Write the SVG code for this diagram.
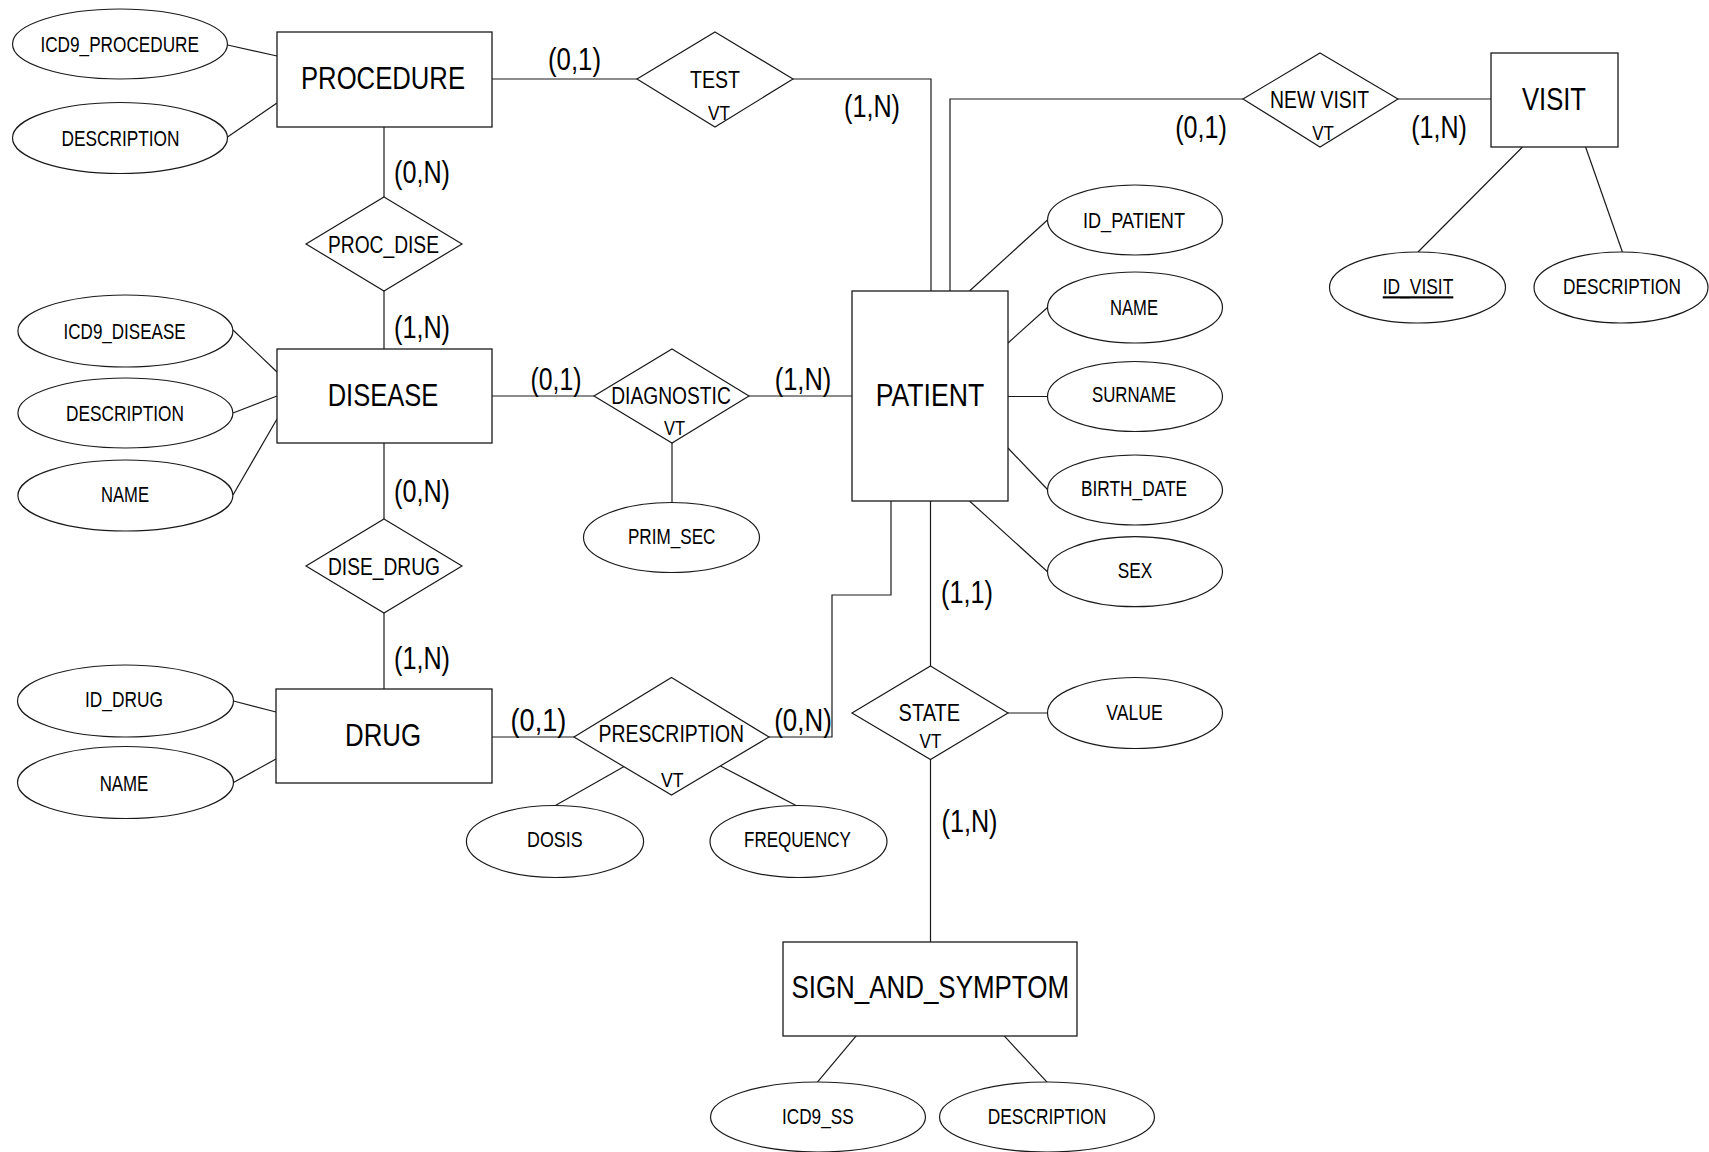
<svg xmlns="http://www.w3.org/2000/svg" width="1709" height="1152" viewBox="0 0 1709 1152">
  <style>
    .ent { fill: #fff; stroke: #1a1a1a; stroke-width: 1.3; }
    .rel { fill: #fff; stroke: #1a1a1a; stroke-width: 1.2; }
    .att { fill: #fff; stroke: #1a1a1a; stroke-width: 1.2; }
    .ln  { fill: none; stroke: #1a1a1a; stroke-width: 1.2; }
    text { font-family: "Liberation Sans Narrow", "Liberation Sans", Arial, sans-serif; fill: #000; text-anchor: middle; }
    .te { font-size: 31.5px; }
    .tr { font-size: 23.5px; }
    .tv { font-size: 21px; }
    .ta { font-size: 21.5px; }
    .tc { font-size: 31px; }
  </style>
  <rect width="1709" height="1152" fill="#fff"/>

  <!-- connectors -->
  <g id="connectors">
    <polyline class="ln" points="492,79 637,79"/>
    <polyline class="ln" points="793,79 931,79 931,291"/>
    <polyline class="ln" points="950,295 950,99 1243,99"/>
    <polyline class="ln" points="1398,99 1491,99"/>
    <polyline class="ln" points="384,127 384,197"/>
    <polyline class="ln" points="384,291 384,349"/>
    <polyline class="ln" points="492,396 594,396"/>
    <polyline class="ln" points="749,396 852,396"/>
    <polyline class="ln" points="672,443 672,503"/>
    <polyline class="ln" points="384,443 384,519"/>
    <polyline class="ln" points="384,613 384,689"/>
    <polyline class="ln" points="492,737 574,737"/>
    <polyline class="ln" points="769,737 832,737 832,595 891,595 891,501"/>
    <polyline class="ln" points="625,766 554.5,806"/>
    <polyline class="ln" points="720.5,766 797,806"/>
    <polyline class="ln" points="930.5,501 930.5,666"/>
    <polyline class="ln" points="1008,713 1047.5,713"/>
    <polyline class="ln" points="930.5,759 930.5,942"/>
    <!-- attribute links -->
    <line class="ln" x1="227.5" y1="45" x2="277" y2="56"/>
    <line class="ln" x1="227.5" y1="137" x2="277" y2="103"/>
    <line class="ln" x1="233" y1="330" x2="277" y2="372"/>
    <line class="ln" x1="233" y1="413" x2="277" y2="396"/>
    <line class="ln" x1="233" y1="495" x2="277" y2="419"/>
    <line class="ln" x1="233.5" y1="701" x2="276" y2="712"/>
    <line class="ln" x1="233.5" y1="782.5" x2="276" y2="759"/>
    <line class="ln" x1="969.5" y1="291" x2="1047.5" y2="220"/>
    <line class="ln" x1="1008" y1="343" x2="1047.5" y2="307.5"/>
    <line class="ln" x1="1008" y1="396.5" x2="1047.5" y2="396.5"/>
    <line class="ln" x1="1008" y1="448" x2="1047.5" y2="489.5"/>
    <line class="ln" x1="969.5" y1="501" x2="1047.5" y2="571.7"/>
    <line class="ln" x1="1522.5" y1="147" x2="1418" y2="252"/>
    <line class="ln" x1="1585.6" y1="147" x2="1622.4" y2="252"/>
    <line class="ln" x1="856.4" y1="1035.7" x2="817" y2="1082.7"/>
    <line class="ln" x1="1004" y1="1035.7" x2="1047.5" y2="1082.7"/>
  </g>

  <!-- entities -->
  <g id="procedure">
    <rect class="ent" x="277" y="32" width="215" height="95"/>
    <text class="te" x="383" y="89.3" textLength="164" lengthAdjust="spacingAndGlyphs">PROCEDURE</text>
  </g>
  <g id="disease">
    <rect class="ent" x="277" y="349" width="215" height="94"/>
    <text class="te" x="383" y="406.3" textLength="110.7" lengthAdjust="spacingAndGlyphs">DISEASE</text>
  </g>
  <g id="drug">
    <rect class="ent" x="276" y="689" width="216" height="94"/>
    <text class="te" x="383" y="746.3" textLength="76" lengthAdjust="spacingAndGlyphs">DRUG</text>
  </g>
  <g id="patient">
    <rect class="ent" x="852" y="291" width="156" height="210"/>
    <text class="te" x="930" y="406.3" textLength="108.5" lengthAdjust="spacingAndGlyphs">PATIENT</text>
  </g>
  <g id="visit">
    <rect class="ent" x="1491" y="53" width="127" height="94"/>
    <text class="te" x="1554" y="110.3" textLength="64" lengthAdjust="spacingAndGlyphs">VISIT</text>
  </g>
  <g id="sign_and_symptom">
    <rect class="ent" x="783" y="942" width="294" height="94"/>
    <text class="te" x="930.2" y="998" textLength="277.6" lengthAdjust="spacingAndGlyphs">SIGN_AND_SYMPTOM</text>
  </g>

  <!-- relationships -->
  <g id="test">
    <polygon class="rel" points="715,32 793,79 715,127 637,79"/>
    <text class="tr" x="715" y="87.5" textLength="50" lengthAdjust="spacingAndGlyphs">TEST</text>
    <text class="tv" x="719" y="119.5" textLength="22" lengthAdjust="spacingAndGlyphs">VT</text>
  </g>
  <g id="new_visit">
    <polygon class="rel" points="1320,53 1398,99 1320,147 1243,99"/>
    <text class="tr" x="1319.5" y="107.5" textLength="99" lengthAdjust="spacingAndGlyphs">NEW VISIT</text>
    <text class="tv" x="1323" y="139.5" textLength="21.6" lengthAdjust="spacingAndGlyphs">VT</text>
  </g>
  <g id="proc_dise">
    <polygon class="rel" points="384,197 462,244 384,291 306,244"/>
    <text class="tr" x="383.5" y="252.5" textLength="111" lengthAdjust="spacingAndGlyphs">PROC_DISE</text>
  </g>
  <g id="diagnostic">
    <polygon class="rel" points="672,349 749,396 672,443 594,396"/>
    <text class="tr" x="671" y="404" textLength="119.6" lengthAdjust="spacingAndGlyphs">DIAGNOSTIC</text>
    <text class="tv" x="674.5" y="435" textLength="21" lengthAdjust="spacingAndGlyphs">VT</text>
  </g>
  <g id="dise_drug">
    <polygon class="rel" points="384,519 462,566 384,613 306,566"/>
    <text class="tr" x="384" y="574.5" textLength="112" lengthAdjust="spacingAndGlyphs">DISE_DRUG</text>
  </g>
  <g id="prescription">
    <polygon class="rel" points="671.5,677.5 769,737 671.5,795 574,737"/>
    <text class="tr" x="671.3" y="742.2" textLength="145.5" lengthAdjust="spacingAndGlyphs">PRESCRIPTION</text>
    <text class="tv" x="672.3" y="786.5" textLength="22.6" lengthAdjust="spacingAndGlyphs">VT</text>
  </g>
  <g id="state">
    <polygon class="rel" points="930.5,666 1008,713 930.5,759.5 852,713"/>
    <text class="tr" x="929.3" y="720.5" textLength="61.4" lengthAdjust="spacingAndGlyphs">STATE</text>
    <text class="tv" x="930.5" y="747.5" textLength="21.8" lengthAdjust="spacingAndGlyphs">VT</text>
  </g>

  <!-- attributes -->
  <g id="attr_icd9_procedure">
    <ellipse class="att" cx="120" cy="44" rx="107.5" ry="35"/>
    <text class="ta" x="119.7" y="52.3" textLength="158.6" lengthAdjust="spacingAndGlyphs">ICD9_PROCEDURE</text>
  </g>
  <g id="attr_procedure_description">
    <ellipse class="att" cx="120" cy="138" rx="107.5" ry="35.5"/>
    <text class="ta" x="120.5" y="145.5" textLength="118" lengthAdjust="spacingAndGlyphs">DESCRIPTION</text>
  </g>
  <g id="attr_icd9_disease">
    <ellipse class="att" cx="125.4" cy="331" rx="107.5" ry="36"/>
    <text class="ta" x="124.6" y="338.5" textLength="122" lengthAdjust="spacingAndGlyphs">ICD9_DISEASE</text>
  </g>
  <g id="attr_disease_description">
    <ellipse class="att" cx="125.4" cy="413" rx="107.5" ry="35"/>
    <text class="ta" x="125" y="420.5" textLength="118" lengthAdjust="spacingAndGlyphs">DESCRIPTION</text>
  </g>
  <g id="attr_disease_name">
    <ellipse class="att" cx="125.4" cy="495.5" rx="107.5" ry="35.5"/>
    <text class="ta" x="125" y="502.2" textLength="48" lengthAdjust="spacingAndGlyphs">NAME</text>
  </g>
  <g id="attr_id_drug">
    <ellipse class="att" cx="125.5" cy="701" rx="108" ry="36"/>
    <text class="ta" x="124" y="707.2" textLength="78" lengthAdjust="spacingAndGlyphs">ID_DRUG</text>
  </g>
  <g id="attr_drug_name">
    <ellipse class="att" cx="125.5" cy="782.5" rx="108" ry="36"/>
    <text class="ta" x="124" y="790.5" textLength="48.7" lengthAdjust="spacingAndGlyphs">NAME</text>
  </g>
  <g id="attr_prim_sec">
    <ellipse class="att" cx="671.5" cy="537.5" rx="88" ry="35"/>
    <text class="ta" x="671.7" y="543.5" textLength="87.5" lengthAdjust="spacingAndGlyphs">PRIM_SEC</text>
  </g>
  <g id="attr_dosis">
    <ellipse class="att" cx="555" cy="841.5" rx="88.6" ry="36"/>
    <text class="ta" x="554.8" y="847.2" textLength="55.6" lengthAdjust="spacingAndGlyphs">DOSIS</text>
  </g>
  <g id="attr_frequency">
    <ellipse class="att" cx="798.5" cy="841.5" rx="88.5" ry="36"/>
    <text class="ta" x="797.4" y="847.2" textLength="106.8" lengthAdjust="spacingAndGlyphs">FREQUENCY</text>
  </g>
  <g id="attr_id_patient">
    <ellipse class="att" cx="1135" cy="220" rx="87.5" ry="35"/>
    <text class="ta" x="1134" y="228.3" textLength="102" lengthAdjust="spacingAndGlyphs">ID_PATIENT</text>
  </g>
  <g id="attr_patient_name">
    <ellipse class="att" cx="1135" cy="307.5" rx="87.5" ry="35.5"/>
    <text class="ta" x="1134" y="315" textLength="48" lengthAdjust="spacingAndGlyphs">NAME</text>
  </g>
  <g id="attr_surname">
    <ellipse class="att" cx="1135" cy="396.5" rx="87.5" ry="35"/>
    <text class="ta" x="1134" y="402.2" textLength="84" lengthAdjust="spacingAndGlyphs">SURNAME</text>
  </g>
  <g id="attr_birth_date">
    <ellipse class="att" cx="1135" cy="490" rx="87.5" ry="35"/>
    <text class="ta" x="1134" y="496.2" textLength="106" lengthAdjust="spacingAndGlyphs">BIRTH_DATE</text>
  </g>
  <g id="attr_sex">
    <ellipse class="att" cx="1135" cy="571.7" rx="87.5" ry="35"/>
    <text class="ta" x="1135" y="578.2" textLength="34.5" lengthAdjust="spacingAndGlyphs">SEX</text>
  </g>
  <g id="attr_value">
    <ellipse class="att" cx="1135" cy="713" rx="87.5" ry="35.5"/>
    <text class="ta" x="1134.6" y="719.5" textLength="56.5" lengthAdjust="spacingAndGlyphs">VALUE</text>
  </g>
  <g id="attr_id_visit">
    <ellipse class="att" cx="1417.5" cy="287.5" rx="88" ry="35.5"/>
    <text class="ta" x="1418" y="294.3" textLength="70.6" lengthAdjust="spacingAndGlyphs" text-decoration="underline">ID_VISIT</text>
  </g>
  <g id="attr_visit_description">
    <ellipse class="att" cx="1621" cy="287.5" rx="87" ry="35.5"/>
    <text class="ta" x="1622" y="294.3" textLength="118" lengthAdjust="spacingAndGlyphs">DESCRIPTION</text>
  </g>
  <g id="attr_icd9_ss">
    <ellipse class="att" cx="818" cy="1117" rx="107.5" ry="35"/>
    <text class="ta" x="817.8" y="1123.8" textLength="71.6" lengthAdjust="spacingAndGlyphs">ICD9_SS</text>
  </g>
  <g id="attr_ss_description">
    <ellipse class="att" cx="1047" cy="1117" rx="107.5" ry="35"/>
    <text class="ta" x="1047" y="1123.8" textLength="118.5" lengthAdjust="spacingAndGlyphs">DESCRIPTION</text>
  </g>

  <!-- cardinalities -->
  <g id="cardinalities" class="tc">
    <text class="tc" x="574.5" y="69.5" textLength="53" lengthAdjust="spacingAndGlyphs">(0,1)</text>
    <text class="tc" x="872" y="116.5" textLength="56" lengthAdjust="spacingAndGlyphs">(1,N)</text>
    <text class="tc" x="1201" y="137.5" textLength="51.6" lengthAdjust="spacingAndGlyphs">(0,1)</text>
    <text class="tc" x="1439" y="137.5" textLength="55.6" lengthAdjust="spacingAndGlyphs">(1,N)</text>
    <text class="tc" x="422" y="183" textLength="56" lengthAdjust="spacingAndGlyphs">(0,N)</text>
    <text class="tc" x="422" y="337.5" textLength="56" lengthAdjust="spacingAndGlyphs">(1,N)</text>
    <text class="tc" x="556" y="389.5" textLength="51" lengthAdjust="spacingAndGlyphs">(0,1)</text>
    <text class="tc" x="803" y="389.5" textLength="56.5" lengthAdjust="spacingAndGlyphs">(1,N)</text>
    <text class="tc" x="422" y="501.5" textLength="56" lengthAdjust="spacingAndGlyphs">(0,N)</text>
    <text class="tc" x="422" y="668.5" textLength="56" lengthAdjust="spacingAndGlyphs">(1,N)</text>
    <text class="tc" x="538.4" y="730.8" textLength="55.7" lengthAdjust="spacingAndGlyphs">(0,1)</text>
    <text class="tc" x="803" y="730.8" textLength="57.5" lengthAdjust="spacingAndGlyphs">(0,N)</text>
    <text class="tc" x="967" y="603.2" textLength="52" lengthAdjust="spacingAndGlyphs">(1,1)</text>
    <text class="tc" x="969.5" y="832.2" textLength="56" lengthAdjust="spacingAndGlyphs">(1,N)</text>
  </g>
</svg>
